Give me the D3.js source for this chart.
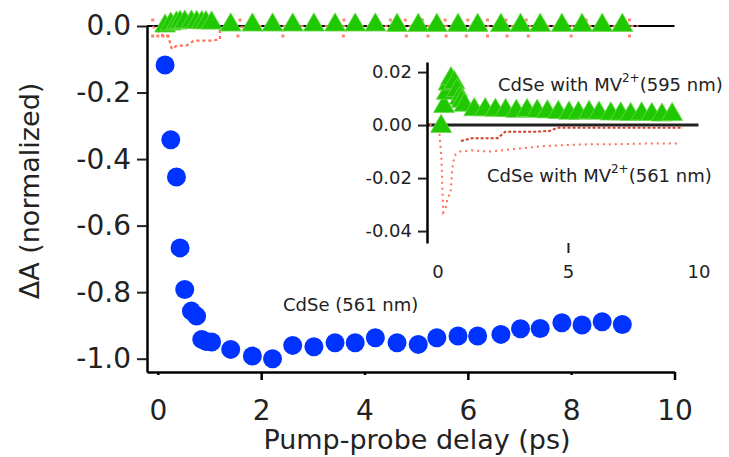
<!DOCTYPE html>
<html>
<head>
<meta charset="utf-8">
<script src="https://cdn.jsdelivr.net/npm/d3@7"></script>
<style>
  body { margin: 0; background: #fff; }
  svg text { font-family: "DejaVu Sans", sans-serif; fill: #222; }
</style>
</head>
<body>
<svg id="chart" width="729" height="457"></svg>
<script>
// pump-probe delays (ps) shared by the sampled series
var delays = [0.14, 0.25, 0.36, 0.43, 0.52, 0.65, 0.75, 0.85, 0.93, 1.04,
  1.41, 1.83, 2.22, 2.61, 3.02, 3.43, 3.82, 4.21, 4.63, 5.04,
  5.40, 5.81, 6.19, 6.64, 7.02, 7.40, 7.82, 8.21, 8.60, 8.99];
// CdSe (561 nm), normalized
var cdse561 = [-0.117, -0.342, -0.454, -0.667, -0.792, -0.857, -0.872, -0.942, -0.948, -0.950,
  -0.972, -0.992, -1.000, -0.960, -0.964, -0.952, -0.952, -0.937, -0.952, -0.957,
  -0.937, -0.932, -0.932, -0.927, -0.910, -0.909, -0.892, -0.899, -0.889, -0.897];
// CdSe with MV2+ (595 nm), normalized, main panel
var mv595Main = [0.000, 0.006, 0.009, 0.011, 0.012, 0.012, 0.011, 0.010, 0.010, 0.009,
  0.003, 0.003, 0.003, 0.003, 0.003, 0.003, 0.003, 0.003, 0.002, 0.002,
  0.002, 0.002, 0.002, 0.002, 0.002, 0.002, 0.002, 0.002, 0.002, 0.002];
// same trace in the inset (raw dA)
var mv595Inset = [-0.0005, 0.007, 0.012, 0.0155, 0.0175, 0.016, 0.013, 0.010, 0.009, 0.0075,
  0.0058, 0.0058, 0.0056, 0.0055, 0.0052, 0.0055, 0.0052, 0.0050, 0.0048, 0.0045,
  0.0045, 0.0048, 0.0045, 0.0042, 0.0042, 0.0040, 0.0042, 0.0040, 0.0038, 0.0040];

// CdSe with MV2+ (561 nm), main panel: early dip (dotted trace)
var mv561MainDelay = [-0.1, 0.1, 0.2, 0.27, 0.37, 0.55, 0.7, 0.85, 1.05, 1.2, 1.2, 1.4, 2.0, 4.0, 6.0, 8.0, 9.3];
var mv561MainValue = [0.0, -0.03, -0.03, -0.069, -0.059, -0.059, -0.044, -0.044, -0.044, -0.04, -0.012, -0.005, 0.0, 0.0, 0.0, 0.0, 0.0];
// noise dots of that trace sticking out around the triangles
var mv561UpperDelay = [-0.1, 1.59, 3.6, 4.5, 4.79, 5.12, 5.56, 6.0, 6.38, 6.74, 7.13, 7.42, 7.81, 8.29, 8.6, 9.13];
var mv561LowerDelay = [-0.1, 0.0, 0.1, 0.19, 1.55, 2.42, 3.59, 4.81, 5.23, 5.58, 5.97, 6.38, 6.76, 7.17, 8.0, 9.13];
var mv561UpperValue = 0.018, mv561LowerValue = -0.03;

// CdSe with MV2+ (561 nm), inset
var mv561InsetDelay = [-0.3, 0.05, 0.15, 0.22, 0.3, 0.4, 0.5, 0.55, 0.6, 0.7, 0.85, 1.0, 1.3, 1.6, 2.0, 2.5, 3.0, 3.5, 4.0, 5.0, 6.0, 7.0, 8.0, 9.3];
var mv561InsetValue = [0.0, 0.0, -0.012, -0.033, -0.032, -0.027, -0.026, -0.019, -0.014, -0.011, -0.010, -0.010, -0.0095, -0.0098, -0.010, -0.0095, -0.009, -0.0085, -0.008, -0.0075, -0.0072, -0.0072, -0.007, -0.007];
var mv561InsetBgDelay = [0.9, 1.3, 1.8, 2.3, 2.6, 3.2, 3.8, 4.3, 4.6, 5.5, 6.5, 7.5, 8.5, 9.4];
var mv561InsetBgValue = [-0.006, -0.005, -0.005, -0.005, -0.0025, -0.0025, -0.0025, -0.0022, -0.001, -0.001, -0.001, -0.001, -0.001, -0.001];

var xTicks = [0, 2, 4, 6, 8, 10];
var yTicks = [0, -0.2, -0.4, -0.6, -0.8, -1.0];
var insetXTicks = [0, 5, 10];
var insetYTicks = [0.02, 0, -0.02, -0.04];

var blue = "#0033ff", green = "#1fc800", salmon = "#ff6f58";

var svg = d3.select("#chart");

// ---------- main panel ----------
var x = d3.scaleLinear().domain([-0.21, 10]).range([147, 674.5]);
var y = d3.scaleLinear().domain([-1.04, 0]).range([372, 26]);

var tri = d3.symbol().type(d3.symbolTriangle).size(190);

// zero line
svg.append("line")
  .attr("x1", x(-0.21)).attr("x2", x(10))
  .attr("y1", y(0)).attr("y2", y(0))
  .attr("stroke", "#000").attr("stroke-width", 2);

// red dotted trace
var mainRed = delaysToPts(mv561MainDelay, mv561MainValue);
svg.append("path")
  .datum(mainRed)
  .attr("d", d3.line().x(function(d) { return x(d[0]); }).y(function(d) { return y(d[1]); }))
  .attr("fill", "none").attr("stroke", salmon).attr("stroke-width", 2.2)
  .attr("stroke-dasharray", "3,3");

var noise = mv561UpperDelay.map(function(t) { return [t, mv561UpperValue]; })
  .concat(mv561LowerDelay.map(function(t) { return [t, mv561LowerValue]; }));
svg.append("g").selectAll("rect").data(noise).enter().append("rect")
  .attr("x", function(d) { return x(d[0]) - 1.5; })
  .attr("y", function(d) { return y(d[1]) - 1.5; })
  .attr("width", 3).attr("height", 3)
  .attr("fill", salmon).attr("opacity", 0.85);

// green triangles
svg.append("g").selectAll("path").data(delays).enter().append("path")
  .attr("d", tri)
  .attr("transform", function(d, i) { return "translate(" + x(d) + "," + y(mv595Main[i]) + ")"; })
  .attr("fill", green).attr("stroke", "#6bd94c").attr("stroke-width", 0.8);

// blue dots
svg.append("g").selectAll("circle").data(delays).enter().append("circle")
  .attr("cx", function(d) { return x(d); })
  .attr("cy", function(d, i) { return y(cdse561[i]); })
  .attr("r", 9.5)
  .attr("fill", blue);

// axes
var xAxis = d3.axisBottom(x).tickValues(xTicks).tickSize(8).tickSizeOuter(0).tickFormat(d3.format("d"));
var gx = svg.append("g").attr("transform", "translate(0,372)").call(xAxis);
gx.select(".domain").attr("stroke", "#000").attr("stroke-width", 2.5);
gx.selectAll(".tick line").attr("stroke", "#000").attr("stroke-width", 2.5)
  .attr("y2", function(d) { return d % 4 === 0 ? 3 : 8; });
gx.selectAll(".tick text").attr("y", 48).attr("dy", null)
  .style("font-size", "28px").attr("fill", "#222");

var yAxis = d3.axisLeft(y).tickValues(yTicks).tickSize(10).tickSizeOuter(0).tickFormat(d3.format(".1f"));
var gy = svg.append("g").attr("transform", "translate(147,0)").call(yAxis);
gy.select(".domain").attr("stroke", "#000").attr("stroke-width", 2.5);
gy.selectAll(".tick line").attr("stroke", "#222").attr("stroke-width", 2);
gy.selectAll(".tick text").attr("x", -16).style("font-size", "28px").attr("fill", "#222")
  .text(function(d) { return d3.format(".1f")(d).replace("−", "-"); });
gx.selectAll("text, line, path").attr("font-family", null);
gy.attr("font-family", null);
gx.attr("font-family", null);

svg.append("text")
  .attr("x", 417).attr("y", 449)
  .attr("text-anchor", "middle")
  .style("font-size", "27px")
  .text("Pump-probe delay (ps)");

svg.append("text")
  .attr("transform", "translate(39,191) rotate(-90)")
  .attr("text-anchor", "middle")
  .style("font-size", "27px")
  .text("ΔA (normalized)");

svg.append("text")
  .attr("x", 283).attr("y", 311)
  .style("font-size", "18px")
  .text("CdSe (561 nm)");

// ---------- inset ----------
var ix = d3.scaleLinear().domain([-0.4, 10]).range([427, 698.5]);
var iy = d3.scaleLinear().domain([-0.0445, 0.0238]).range([243, 62]);

svg.append("line")
  .attr("x1", ix(-0.4)).attr("x2", ix(10))
  .attr("y1", iy(0)).attr("y2", iy(0))
  .attr("stroke", "#222").attr("stroke-width", 3);

var lineI = d3.line().x(function(d) { return ix(d[0]); }).y(function(d) { return iy(d[1]); });
svg.append("path")
  .datum(delaysToPts(mv561InsetBgDelay, mv561InsetBgValue))
  .attr("d", lineI)
  .attr("fill", "none").attr("stroke", "#d0402c").attr("stroke-width", 2)
  .attr("stroke-dasharray", "3,2");
svg.append("path")
  .datum(delaysToPts(mv561InsetDelay, mv561InsetValue))
  .attr("d", lineI)
  .attr("fill", "none").attr("stroke", salmon).attr("stroke-width", 2)
  .attr("stroke-dasharray", "2,4");

svg.append("g").selectAll("path").data(delays).enter().append("path")
  .attr("d", tri)
  .attr("transform", function(d, i) { return "translate(" + ix(d) + "," + iy(mv595Inset[i]) + ")"; })
  .attr("fill", green).attr("stroke", "#6bd94c").attr("stroke-width", 0.8);

var iyAxis = d3.axisLeft(iy).tickValues(insetYTicks).tickSize(9).tickSizeOuter(0).tickPadding(6)
  .tickFormat(function(d) { return d3.format(".2f")(d).replace("−", "-"); });
var giy = svg.append("g").attr("transform", "translate(427,0)").call(iyAxis);
giy.select(".domain").attr("stroke", "#000").attr("stroke-width", 2.5);
giy.selectAll(".tick line").attr("stroke", "#222").attr("stroke-width", 2);
giy.selectAll(".tick text").style("font-size", "18px").attr("fill", "#222");
giy.attr("font-family", null);

var ixAxis = d3.axisBottom(ix).tickValues(insetXTicks).tickSize(10).tickSizeOuter(0).tickFormat(d3.format("d"));
var gix = svg.append("g").attr("transform", "translate(0,243)").call(ixAxis);
gix.select(".domain").remove();
gix.selectAll(".tick line").attr("stroke", "#222").attr("stroke-width", 2)
  .attr("opacity", function(d) { return d === 5 ? 1 : 0; });
gix.selectAll(".tick text").attr("y", 35).attr("dy", null).style("font-size", "18px").attr("fill", "#222");
gix.attr("font-family", null);

function mvLabel(x0, y0, nm) {
  var t = svg.append("text").attr("x", x0).attr("y", y0).style("font-size", "18px");
  t.append("tspan").text("CdSe with MV");
  t.append("tspan").attr("dy", -9).style("font-size", "12px").text("2+");
  t.append("tspan").attr("dy", 9).text("(" + nm + " nm)");
}
mvLabel(498, 91, "595");
mvLabel(487, 182, "561");

function delaysToPts(ts, vs) {
  return ts.map(function(t, i) { return [t, vs[i]]; });
}
</script>
</body>
</html>
